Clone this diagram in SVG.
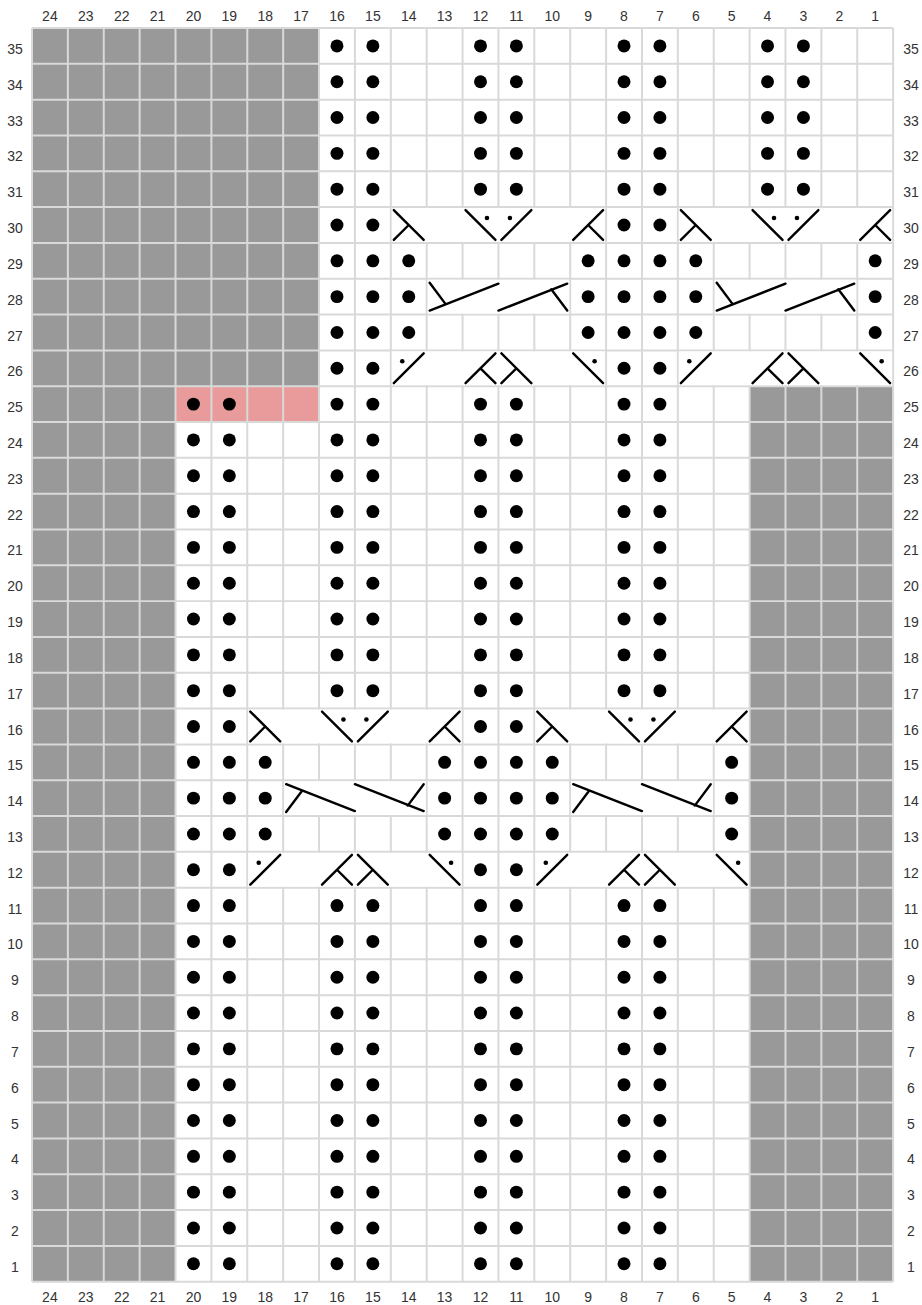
<svg xmlns="http://www.w3.org/2000/svg" width="922" height="1305" viewBox="0 0 922 1305">
<style>
.lbl{font-family:"Liberation Sans",Arial,sans-serif;font-size:14px;fill:#333;text-anchor:middle}
</style>
<defs>
<circle id="d" r="6.5" fill="#000"/>
<g id="rA"><use href="#d" x="306"/><use href="#d" x="342"/><use href="#d" x="450"/><use href="#d" x="486"/><use href="#d" x="594"/><use href="#d" x="630"/><use href="#d" x="738"/><use href="#d" x="774"/></g>
<g id="rB"><use href="#d" x="162"/><use href="#d" x="198"/><use href="#d" x="306"/><use href="#d" x="342"/><use href="#d" x="450"/><use href="#d" x="486"/><use href="#d" x="594"/><use href="#d" x="630"/></g>
<g id="rC"><use href="#d" x="306"/><use href="#d" x="342"/><use href="#d" x="378"/><use href="#d" x="558"/><use href="#d" x="594"/><use href="#d" x="630"/><use href="#d" x="666"/><use href="#d" x="846"/></g>
<g id="rD"><use href="#d" x="162"/><use href="#d" x="198"/><use href="#d" x="234"/><use href="#d" x="414"/><use href="#d" x="450"/><use href="#d" x="486"/><use href="#d" x="522"/><use href="#d" x="702"/></g>
<g id="rE"><use href="#d" x="306"/><use href="#d" x="342"/><use href="#d" x="594"/><use href="#d" x="630"/></g>
<g id="rF"><use href="#d" x="162"/><use href="#d" x="198"/><use href="#d" x="450"/><use href="#d" x="486"/></g>
<path id="A" d="M3 3L33 33M18 18L3 33" stroke="#000" stroke-width="2.4" fill="none" stroke-linecap="round"/>
<path id="B" d="M3 33L33 3M18 18L33 33" stroke="#000" stroke-width="2.4" fill="none" stroke-linecap="round"/>
<g id="R"><path d="M3 3L33 33" stroke="#000" stroke-width="2.4" fill="none" stroke-linecap="round"/><circle cx="24.5" cy="11" r="2.3" fill="#000"/></g>
<g id="L"><path d="M3 33L33 3" stroke="#000" stroke-width="2.4" fill="none" stroke-linecap="round"/><circle cx="11.5" cy="11" r="2.3" fill="#000"/></g>
<path id="C14" d="M3 4L72 31M3 32L19 10.5M72 4L141 31M141 4L125 25.5" stroke="#000" stroke-width="2.4" fill="none" stroke-linecap="round"/>
<path id="C28" d="M3 32L72 5M3 4L19 25.5M72 32L141 5M141 32L125 10.5" stroke="#000" stroke-width="2.4" fill="none" stroke-linecap="round"/>
</defs>
<rect width="922" height="1305" fill="#fff"/>
<g id="chart" transform="translate(32,28) scale(0.996667,0.995)">
<g id="fills">
<rect x="0" y="0" width="288" height="360" fill="#999"/>
<rect x="0" y="360" width="144" height="900" fill="#999"/>
<rect x="720" y="360" width="144" height="900" fill="#999"/>
<rect x="144" y="360" width="144" height="36" fill="#e99a9a"/>
</g>
<path id="grid" fill="none" stroke="#d9d9d9" stroke-width="2" d="M0 0V1260M36 0V1260M72 0V1260M108 0V1260M144 0V1260M180 0V1260M216 0V1260M252 0V1260M288 0V1260M324 0V1260M360 0V1260M396 0V1260M432 0V1260M468 0V1260M504 0V1260M540 0V1260M576 0V1260M612 0V1260M648 0V1260M684 0V1260M720 0V1260M756 0V1260M792 0V1260M828 0V1260M864 0V1260M0 0H864M0 36H864M0 72H864M0 108H864M0 144H864M0 180H864M0 216H864M0 252H864M0 288H864M0 324H864M0 360H864M0 396H864M0 432H864M0 468H864M0 504H864M0 540H864M0 576H864M0 612H864M0 648H864M0 684H864M0 720H864M0 756H864M0 792H864M0 828H864M0 864H864M0 900H864M0 936H864M0 972H864M0 1008H864M0 1044H864M0 1080H864M0 1116H864M0 1152H864M0 1188H864M0 1224H864M0 1260H864"/>
<g id="merged" fill="#fff">
<rect x="361" y="181" width="214" height="34"/>
<rect x="649" y="181" width="214" height="34"/>
<rect x="361" y="325" width="214" height="34"/>
<rect x="649" y="325" width="214" height="34"/>
<rect x="397" y="253" width="142" height="34"/>
<rect x="685" y="253" width="142" height="34"/>
<rect x="217" y="685" width="214" height="34"/>
<rect x="505" y="685" width="214" height="34"/>
<rect x="217" y="829" width="214" height="34"/>
<rect x="505" y="829" width="214" height="34"/>
<rect x="253" y="757" width="142" height="34"/>
<rect x="541" y="757" width="142" height="34"/>
</g>
<g id="symbols">
<use href="#A" x="360" y="180"/><use href="#R" x="432" y="180"/><use href="#L" x="468" y="180"/><use href="#B" x="540" y="180"/>
<use href="#A" x="648" y="180"/><use href="#R" x="720" y="180"/><use href="#L" x="756" y="180"/><use href="#B" x="828" y="180"/>
<use href="#C28" x="396" y="252"/><use href="#C28" x="684" y="252"/>
<use href="#L" x="360" y="324"/><use href="#B" x="432" y="324"/><use href="#A" x="468" y="324"/><use href="#R" x="540" y="324"/>
<use href="#L" x="648" y="324"/><use href="#B" x="720" y="324"/><use href="#A" x="756" y="324"/><use href="#R" x="828" y="324"/>
<use href="#A" x="216" y="684"/><use href="#R" x="288" y="684"/><use href="#L" x="324" y="684"/><use href="#B" x="396" y="684"/>
<use href="#A" x="504" y="684"/><use href="#R" x="576" y="684"/><use href="#L" x="612" y="684"/><use href="#B" x="684" y="684"/>
<use href="#C14" x="252" y="756"/><use href="#C14" x="540" y="756"/>
<use href="#L" x="216" y="828"/><use href="#B" x="288" y="828"/><use href="#A" x="324" y="828"/><use href="#R" x="396" y="828"/>
<use href="#L" x="504" y="828"/><use href="#B" x="576" y="828"/><use href="#A" x="612" y="828"/><use href="#R" x="684" y="828"/>
</g>
<g id="purls">
<use href="#rA" y="18"/><use href="#rA" y="54"/><use href="#rA" y="90"/><use href="#rA" y="126"/><use href="#rA" y="162"/>
<use href="#rE" y="198"/>
<use href="#rC" y="234"/><use href="#rC" y="270"/><use href="#rC" y="306"/>
<use href="#rE" y="342"/>
<use href="#rB" y="378"/><use href="#rB" y="414"/><use href="#rB" y="450"/><use href="#rB" y="486"/><use href="#rB" y="522"/><use href="#rB" y="558"/><use href="#rB" y="594"/><use href="#rB" y="630"/><use href="#rB" y="666"/>
<use href="#rF" y="702"/>
<use href="#rD" y="738"/><use href="#rD" y="774"/><use href="#rD" y="810"/>
<use href="#rF" y="846"/>
<use href="#rB" y="882"/><use href="#rB" y="918"/><use href="#rB" y="954"/><use href="#rB" y="990"/><use href="#rB" y="1026"/><use href="#rB" y="1062"/><use href="#rB" y="1098"/><use href="#rB" y="1134"/><use href="#rB" y="1170"/><use href="#rB" y="1206"/><use href="#rB" y="1242"/>
</g>
</g>
<g id="col-labels-top" class="lbl">
<text x="49.9" y="20.5">24</text><text x="85.8" y="20.5">23</text><text x="121.7" y="20.5">22</text><text x="157.6" y="20.5">21</text><text x="193.5" y="20.5">20</text><text x="229.3" y="20.5">19</text><text x="265.2" y="20.5">18</text><text x="301.1" y="20.5">17</text><text x="337" y="20.5">16</text><text x="372.9" y="20.5">15</text><text x="408.7" y="20.5">14</text><text x="444.6" y="20.5">13</text><text x="480.5" y="20.5">12</text><text x="516.4" y="20.5">11</text><text x="552.3" y="20.5">10</text><text x="588.1" y="20.5">9</text><text x="624" y="20.5">8</text><text x="659.9" y="20.5">7</text><text x="695.8" y="20.5">6</text><text x="731.7" y="20.5">5</text><text x="767.5" y="20.5">4</text><text x="803.4" y="20.5">3</text><text x="839.3" y="20.5">2</text><text x="875.2" y="20.5">1</text>
</g>
<g id="col-labels-bottom" class="lbl">
<text x="49.9" y="1302">24</text><text x="85.8" y="1302">23</text><text x="121.7" y="1302">22</text><text x="157.6" y="1302">21</text><text x="193.5" y="1302">20</text><text x="229.3" y="1302">19</text><text x="265.2" y="1302">18</text><text x="301.1" y="1302">17</text><text x="337" y="1302">16</text><text x="372.9" y="1302">15</text><text x="408.7" y="1302">14</text><text x="444.6" y="1302">13</text><text x="480.5" y="1302">12</text><text x="516.4" y="1302">11</text><text x="552.3" y="1302">10</text><text x="588.1" y="1302">9</text><text x="624" y="1302">8</text><text x="659.9" y="1302">7</text><text x="695.8" y="1302">6</text><text x="731.7" y="1302">5</text><text x="767.5" y="1302">4</text><text x="803.4" y="1302">3</text><text x="839.3" y="1302">2</text><text x="875.2" y="1302">1</text>
</g>
<g id="row-labels-left" class="lbl">
<text x="15" y="53.9">35</text><text x="15" y="89.7">34</text><text x="15" y="125.5">33</text><text x="15" y="161.4">32</text><text x="15" y="197.2">31</text><text x="15" y="233">30</text><text x="15" y="268.8">29</text><text x="15" y="304.6">28</text><text x="15" y="340.5">27</text><text x="15" y="376.3">26</text><text x="15" y="412.1">25</text><text x="15" y="447.9">24</text><text x="15" y="483.7">23</text><text x="15" y="519.6">22</text><text x="15" y="555.4">21</text><text x="15" y="591.2">20</text><text x="15" y="627">19</text><text x="15" y="662.9">18</text><text x="15" y="698.7">17</text><text x="15" y="734.5">16</text><text x="15" y="770.3">15</text><text x="15" y="806.1">14</text><text x="15" y="842">13</text><text x="15" y="877.8">12</text><text x="15" y="913.6">11</text><text x="15" y="949.4">10</text><text x="15" y="985.2">9</text><text x="15" y="1021.1">8</text><text x="15" y="1056.9">7</text><text x="15" y="1092.7">6</text><text x="15" y="1128.5">5</text><text x="15" y="1164.3">4</text><text x="15" y="1200.2">3</text><text x="15" y="1236">2</text><text x="15" y="1271.8">1</text>
</g>
<g id="row-labels-right" class="lbl">
<text x="911" y="53.9">35</text><text x="911" y="89.7">34</text><text x="911" y="125.5">33</text><text x="911" y="161.4">32</text><text x="911" y="197.2">31</text><text x="911" y="233">30</text><text x="911" y="268.8">29</text><text x="911" y="304.6">28</text><text x="911" y="340.5">27</text><text x="911" y="376.3">26</text><text x="911" y="412.1">25</text><text x="911" y="447.9">24</text><text x="911" y="483.7">23</text><text x="911" y="519.6">22</text><text x="911" y="555.4">21</text><text x="911" y="591.2">20</text><text x="911" y="627">19</text><text x="911" y="662.9">18</text><text x="911" y="698.7">17</text><text x="911" y="734.5">16</text><text x="911" y="770.3">15</text><text x="911" y="806.1">14</text><text x="911" y="842">13</text><text x="911" y="877.8">12</text><text x="911" y="913.6">11</text><text x="911" y="949.4">10</text><text x="911" y="985.2">9</text><text x="911" y="1021.1">8</text><text x="911" y="1056.9">7</text><text x="911" y="1092.7">6</text><text x="911" y="1128.5">5</text><text x="911" y="1164.3">4</text><text x="911" y="1200.2">3</text><text x="911" y="1236">2</text><text x="911" y="1271.8">1</text>
</g>
</svg>
